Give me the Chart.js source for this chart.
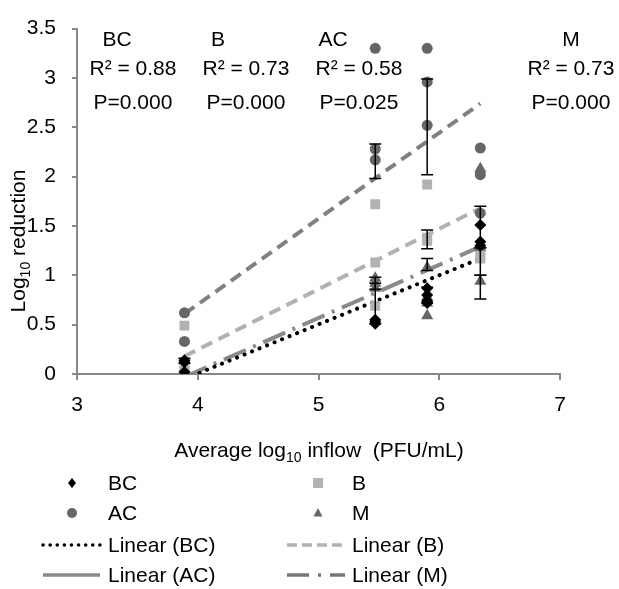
<!DOCTYPE html>
<html>
<head>
<meta charset="utf-8">
<script src="https://cdn.jsdelivr.net/npm/chart.js@4.4.1/dist/chart.umd.min.js"></script>
<style>
  html, body { margin: 0; padding: 0; background: #fff; }
</style>
</head>
<body>
<canvas id="myChart" width="619" height="589"></canvas>
<script>
// measured series (x = average log10 inflow, y = log10 reduction)
var bcX = [3.89, 3.89, 3.89, 5.47, 5.47, 5.47, 5.90, 5.90, 5.90, 5.90, 6.34, 6.34, 6.34];
var bcY = [0.14, 0.12, 0.02, 0.51, 0.55, 0.53, 0.87, 0.80, 0.74, 0.72, 1.51, 1.34, 1.30];

var bX = [3.89, 3.89, 3.89, 5.47, 5.47, 5.47, 5.90, 5.90, 5.90, 6.34, 6.34];
var bY = [0.49, 0.08, 0.03, 1.72, 1.13, 0.69, 1.92, 1.38, 1.35, 1.17, 1.20];

var acX = [3.89, 3.89, 3.89, 5.47, 5.47, 5.47, 5.90, 5.90, 5.90, 6.34, 6.34, 6.34];
var acY = [0.62, 0.33, 0.01, 3.30, 2.28, 2.17, 3.30, 2.96, 2.52, 2.29, 2.02, 1.63];

var mX = [3.89, 3.89, 5.47, 5.47, 5.47, 5.90, 5.90, 5.90, 5.90, 6.34, 6.34, 6.34];
var mY = [0.00, 0.02, 0.97, 0.92, 0.87, 1.08, 0.78, 0.72, 0.59, 2.08, 0.94, 1.28];

// trend lines (ends at min / max inflow)
var trendX = [3.89, 6.34];
var bcTrend = [-0.05, 1.17];
var bTrend = [0.18, 1.68];
var acTrend = [0.61, 2.74];
var mTrend = [-0.03, 1.29];

// error bars
var errX  = [3.89, 5.47, 5.47, 5.47, 5.90, 5.90, 5.90, 5.90, 6.34, 6.34, 6.34];
var errLo = [0.11, 1.98, 0.51, 0.86, 2.02, 1.27, 1.05, 0.72, 1.28, 1.00, 0.76];
var errHi = [0.16, 2.33, 0.92, 0.98, 2.99, 1.46, 1.17, 0.88, 1.70, 1.28, 1.00];

// fit statistics
var groups = ['BC', 'B', 'AC', 'M'];
var rSquared = ['0.88', '0.73', '0.58', '0.73'];
var pValues = ['0.000', '0.000', '0.025', '0.000'];

var FONT = "'Liberation Sans', Arial, sans-serif";
var FS = 21;

function pts(xs, ys) {
  return xs.map(function (x, i) { return { x: x, y: ys[i] }; });
}

function drawMarker(c, style, x, y, r, color) {
  c.save();
  c.fillStyle = color;
  c.beginPath();
  if (style === 'circle') {
    c.arc(x, y, r, 0, Math.PI * 2);
  } else if (style === 'rect') {
    c.rect(x - r, y - r, 2 * r, 2 * r);
  } else if (style === 'rectRot') {
    c.moveTo(x, y - r); c.lineTo(x + r * 0.8, y); c.lineTo(x, y + r); c.lineTo(x - r * 0.8, y);
    c.closePath();
  } else if (style === 'triangle') {
    c.moveTo(x, y - r); c.lineTo(x + r * 0.9, y + r * 0.7); c.lineTo(x - r * 0.9, y + r * 0.7);
    c.closePath();
  }
  c.fill();
  c.restore();
}

// text with a subscript part: parts = [[text, isSub], ...]
function drawParts(c, parts, x, y, size) {
  var subSize = Math.round(size * 0.65);
  var total = 0;
  parts.forEach(function (p) {
    c.font = (p[1] ? subSize : size) + 'px ' + FONT;
    total += c.measureText(p[0]).width;
  });
  var cx = x - total / 2;
  c.textAlign = 'left';
  c.textBaseline = 'alphabetic';
  parts.forEach(function (p) {
    c.font = (p[1] ? subSize : size) + 'px ' + FONT;
    c.fillText(p[0], cx, p[1] ? y + 5 : y);
    cx += c.measureText(p[0]).width;
  });
}

var extras = {
  id: 'extras',
  afterDatasetsDraw: function (chart) {
    var c = chart.ctx, xs = chart.scales.x, ys = chart.scales.y;
    c.save();
    c.strokeStyle = '#000';
    c.lineWidth = 1.5;
    for (var i = 0; i < errX.length; i++) {
      var x = xs.getPixelForValue(errX[i]);
      var y1 = ys.getPixelForValue(errLo[i]);
      var y2 = ys.getPixelForValue(errHi[i]);
      c.beginPath();
      c.moveTo(x, y1); c.lineTo(x, y2);
      c.moveTo(x - 6, y1); c.lineTo(x + 6, y1);
      c.moveTo(x - 6, y2); c.lineTo(x + 6, y2);
      c.stroke();
    }
    c.restore();
  },
  afterDraw: function (chart) {
    var c = chart.ctx;
    c.save();
    c.fillStyle = '#000';

    // fit statistics above the plot
    var titleX = [117, 218, 333, 571];
    var statX = [133, 246, 359, 571];
    c.textAlign = 'center';
    c.textBaseline = 'alphabetic';
    c.font = FS + 'px ' + FONT;
    for (var i = 0; i < groups.length; i++) {
      c.fillText(groups[i], titleX[i], 46);
      c.fillText('R\u00b2 = ' + rSquared[i], statX[i], 75);
      c.fillText('P=' + pValues[i], statX[i], 109);
    }

    // axis titles
    drawParts(c, [['Average log', false], ['10', true], [' inflow  (PFU/mL)', false]], 319, 457, FS);
    c.save();
    c.translate(25, 241);
    c.rotate(-Math.PI / 2);
    drawParts(c, [['Log', false], ['10', true], [' reduction', false]], 0, 0, FS);
    c.restore();

    // legend, two columns
    var rows = [483, 513, 545, 575];
    var items = [
      { text: 'BC', col: 0, row: 0, marker: 'rectRot', color: '#000' },
      { text: 'B', col: 1, row: 0, marker: 'rect', color: '#b2b2b2' },
      { text: 'AC', col: 0, row: 1, marker: 'circle', color: '#666' },
      { text: 'M', col: 1, row: 1, marker: 'triangle', color: '#666' },
      { text: 'Linear (BC)', col: 0, row: 2, line: { color: '#000', dash: [0.1, 7], width: 3.5, cap: 'round' } },
      { text: 'Linear (B)', col: 1, row: 2, line: { color: '#b2b2b2', dash: [10, 5], width: 3.5, cap: 'butt' } },
      { text: 'Linear (AC)', col: 0, row: 3, line: { color: '#8a8a8a', dash: [], width: 3.5, cap: 'butt' } },
      { text: 'Linear (M)', col: 1, row: 3, line: { color: '#777', dash: [22, 9, 3, 9], width: 3.5, cap: 'butt' } }
    ];
    var markX = [72, 318], textX = [108, 352], lineL = [43, 287], lineR = [100, 345];
    items.forEach(function (it) {
      var y = rows[it.row];
      if (it.marker) {
        drawMarker(c, it.marker, markX[it.col], y, 5, it.color);
      } else {
        c.save();
        c.strokeStyle = it.line.color;
        c.lineWidth = it.line.width;
        c.lineCap = it.line.cap;
        c.setLineDash(it.line.dash);
        c.beginPath();
        c.moveTo(lineL[it.col], y);
        c.lineTo(lineR[it.col], y);
        c.stroke();
        c.restore();
      }
      c.fillStyle = '#000';
      c.font = FS + 'px ' + FONT;
      c.textAlign = 'left';
      c.textBaseline = 'middle';
      c.fillText(it.text, textX[it.col], y + 1);
    });
    c.restore();
  }
};

var ctx = document.getElementById('myChart').getContext('2d');

var myChart = new Chart(ctx, {
  type: 'scatter',
  data: {
    datasets: [
      { label: 'BC', data: pts(bcX, bcY), pointStyle: 'rectRot', pointRadius: 6,
        backgroundColor: '#000', borderColor: '#000', borderWidth: 0 },
      { label: 'B', data: pts(bX, bY), pointStyle: 'rect', pointRadius: 7,
        backgroundColor: '#b2b2b2', borderColor: '#b2b2b2', borderWidth: 0 },
      { label: 'AC', data: pts(acX, acY), pointStyle: 'circle', pointRadius: 5.5,
        backgroundColor: '#666', borderColor: '#666', borderWidth: 0 },
      { label: 'M', data: pts(mX, mY), pointStyle: 'triangle', pointRadius: 7,
        backgroundColor: '#666', borderColor: '#666', borderWidth: 0 },
      { label: 'Linear (BC)', data: pts(trendX, bcTrend), showLine: true, pointRadius: 0,
        borderColor: '#000', borderWidth: 4, borderDash: [0.1, 8], borderCapStyle: 'round' },
      { label: 'Linear (B)', data: pts(trendX, bTrend), showLine: true, pointRadius: 0,
        borderColor: '#b2b2b2', borderWidth: 4, borderDash: [12, 7] },
      { label: 'Linear (AC)', data: pts(trendX, acTrend), showLine: true, pointRadius: 0,
        borderColor: '#808080', borderWidth: 4, borderDash: [12, 7] },
      { label: 'Linear (M)', data: pts(trendX, mTrend), showLine: true, pointRadius: 0,
        borderColor: '#8a8a8a', borderWidth: 4, borderDash: [24, 8, 3, 8] }
    ]
  },
  options: {
    responsive: false,
    animation: false,
    devicePixelRatio: 1,
    layout: { padding: { top: 17, right: 59, bottom: 165, left: 0 } },
    plugins: {
      legend: { display: false },
      tooltip: { enabled: false }
    },
    scales: {
      x: {
        type: 'linear', min: 3, max: 7,
        ticks: { stepSize: 1, color: '#000', padding: 13, font: { family: FONT, size: FS },
          callback: function (v) { return String(v); } },
        grid: { drawOnChartArea: false, drawTicks: true, tickLength: 6, color: '#888', lineWidth: 2 },
        border: { color: '#888', width: 2 },
        afterFit: function (s) { s.height = 50; }
      },
      y: {
        min: 0, max: 3.5,
        ticks: { stepSize: 0.5, color: '#000', padding: 16, font: { family: FONT, size: FS },
          callback: function (v) { return String(Math.round(v * 10) / 10); } },
        grid: { drawOnChartArea: false, drawTicks: true, tickLength: 5, color: '#888', lineWidth: 2 },
        border: { color: '#888', width: 2 },
        afterFit: function (s) { s.width = 77; }
      }
    }
  },
  plugins: [extras]
});
</script>
</body>
</html>
